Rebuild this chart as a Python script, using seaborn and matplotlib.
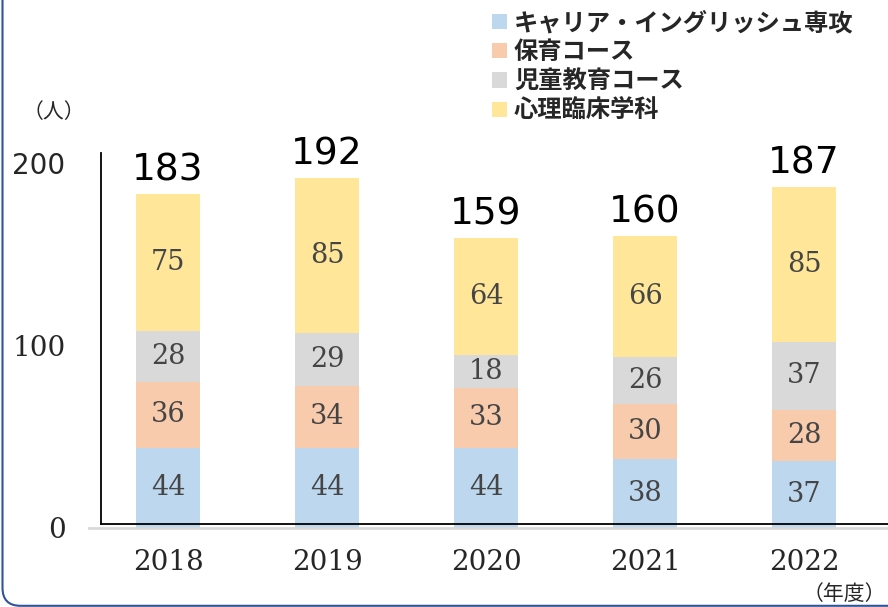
import numpy as np
import pandas as pd
import matplotlib
matplotlib.use("Agg")
import matplotlib.pyplot as plt
import seaborn as sns
from matplotlib.patches import Patch, FancyBboxPatch

# ---- data ----
years = ["2018", "2019", "2020", "2021", "2022"]
series_names = ["キャリア・イングリッシュ専攻", "保育コース", "児童教育コース", "心理臨床学科"]
career = [44, 44, 44, 38, 37]
hoiku = [36, 34, 33, 30, 28]
jido = [28, 29, 18, 26, 37]
shinri = [75, 85, 64, 66, 85]
colors = ["#BDD7EE", "#F8CBAD", "#D9D9D9", "#FFE699"]
y_ticks = [0, 100, 200]

sns.set_style("white")
CJK = ["Noto Sans CJK JP", "DejaVu Sans"]
plt.rcParams["font.family"] = CJK

W, H = 888, 607
fig = plt.figure(figsize=(W / 100, H / 100), dpi=100)

# main axes geometry (pixels)
ax_left_px, ax_right_px = 89, 888
zero_px = 528
px_per_unit = 1.823
ymax = 240
ax_h_px = ymax * px_per_unit
ax = fig.add_axes([ax_left_px / W, (H - zero_px) / H,
                   (ax_right_px - ax_left_px) / W, ax_h_px / H])

series = [career, hoiku, jido, shinri]
stack = np.cumsum(np.array(series), axis=0)

# draw stacked bars: tallest cumulative first
for i in range(len(series) - 1, -1, -1):
    df = pd.DataFrame({"year": years, "value": stack[i]})
    sns.barplot(data=df, x="year", y="value", color=colors[i], width=0.4,
                saturation=1, linewidth=0, ax=ax, zorder=2)

# segment labels
for i, vals in enumerate(series):
    bottoms = stack[i] - np.array(vals)
    for j, v in enumerate(vals):
        ax.text(j, bottoms[j] + v / 2, str(v), ha="center", va="center",
                fontsize=19.5, color="#454545", family="DejaVu Serif", zorder=4)

# totals
totals = stack[-1]
for j, t in enumerate(totals):
    ax.annotate(str(t), (j, t), xytext=(0, 10), textcoords="offset points",
                ha="center", va="baseline", fontsize=27, color="black",
                family="DejaVu Sans", zorder=4)

ax.set_xlim((ax_left_px - 168) / 159, (ax_right_px - 168) / 159)
ax.set_ylim(0, ymax)
ax.set_yticks(y_ticks)
ax.set_yticklabels([str(v) for v in y_ticks])
ax.set_xlabel("")
ax.set_ylabel("")
ax.tick_params(axis="both", length=0)
ax.tick_params(axis="y", pad=17, labelsize=20)
ax.tick_params(axis="x", pad=15, labelsize=20)
for lab in ax.get_xticklabels():
    lab.set_family("DejaVu Serif")
for lab in ax.get_yticklabels():
    lab.set_family("DejaVu Sans" if lab.get_text() == "200" else "DejaVu Serif")
for s in ["top", "right", "left"]:
    ax.spines[s].set_visible(False)
ax.spines["bottom"].set_color("#D9D9D9")
ax.spines["bottom"].set_linewidth(2)
ax.patch.set_alpha(0)

# overlay frame (black L shape)
fr_left, fr_bottom, fr_top = 101, 524, 153
ax2 = fig.add_axes([fr_left / W, (H - fr_bottom) / H,
                    (W - fr_left) / W, (fr_bottom - fr_top) / H])
ax2.set_zorder(ax.get_zorder() + 1)
ax2.patch.set_visible(False)
ax2.set_xticks([])
ax2.set_yticks([])
for s in ["top", "right"]:
    ax2.spines[s].set_visible(False)
for s in ["left", "bottom"]:
    ax2.spines[s].set_color("black")
    ax2.spines[s].set_linewidth(1.3)

# legend
handles = [Patch(facecolor=c, edgecolor="none") for c in colors]
fig.legend(handles, series_names, loc="upper left",
           bbox_to_anchor=(492 / W, 1 - 11 / H), frameon=False,
           prop={"family": CJK, "size": 17.5, "weight": "bold"},
           handlelength=0.6, handleheight=0.6, handletextpad=0.3,
           labelspacing=0.22, borderpad=0, borderaxespad=0)

# unit labels
fig.text(54 / W, 1 - 112 / H, "（人）", ha="center", va="center",
         fontsize=15, family=CJK)
fig.text(886 / W, 1 - 594 / H, "（年度）", ha="right", va="center",
         fontsize=15, family=CJK)

# rounded border
border = FancyBboxPatch((0.025, 0.012), 12, 10,
                        boxstyle="round,pad=0,rounding_size=0.18",
                        transform=fig.dpi_scale_trans, fill=False,
                        edgecolor="#2F5597", linewidth=1.5)
fig.add_artist(border)

fig.savefig("out.png", dpi=100)
